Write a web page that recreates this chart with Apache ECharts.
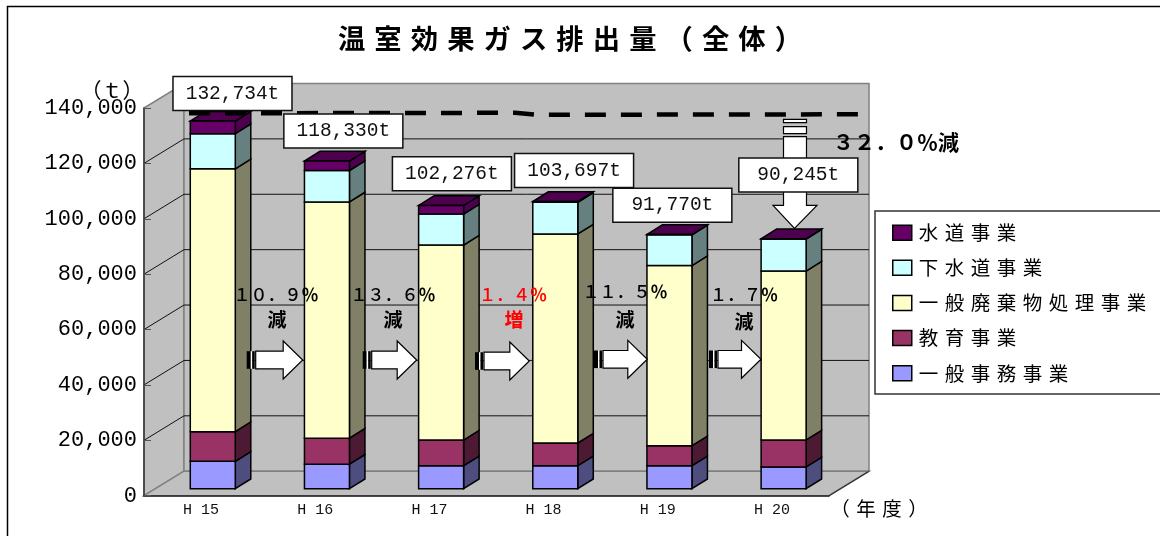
<!DOCTYPE html>
<html><head><meta charset="utf-8">
<style>html,body{margin:0;padding:0;background:#fff}#c{width:1160px;height:536px}</style>
<script src="https://cdn.jsdelivr.net/npm/echarts@6/dist/echarts.min.js"></script>
</head><body><div id="c"></div>
<script>
// ---- data ----
const categories = ['H 15','H 16','H 17','H 18','H 19','H 20'];
const general   = [9900, 8850, 8300, 8300, 8300, 7840];   // 一般事務事業
const education = [10700, 9400, 9280, 8200, 7220, 9750];  // 教育事業
const waste     = [94900, 85300, 70400, 75480, 65060, 61000]; // 一般廃棄物処理事業
const sewer     = [12700, 11350, 11180, 11450, 11100, 11560]; // 下水道事業
const water     = [4534, 3430, 3116, 267, 90, 95];        // 水道事業
const totals    = [132734, 118330, 102276, 103697, 91770, 90245];
const yearChange = ['１０．９','１３．６','１．４','１１．５','１．７'];
const yearChangeWord = ['減','減','増','減','減'];

// ---- style ----
const JP = '"Noto Sans CJK JP"', MONO = '"Liberation Mono"';
const spaced = s => [...s].join('\u2004');
const names  = ['一般事務事業','教育事業','一般廃棄物処理事業','下水道事業','水道事業'];
const fronts = ['#9999FF','#993366','#FFFFCC','#CCFFFF','#660066'];
const sides  = ['#4D4D80','#4D1A33','#808066','#668080','#4D004D'];
const values = [general, education, waste, sewer, water];
const DX = 40, DY = -24.5;         // wall depth
const BDX = 15.5, BDY = -9.7;      // bar depth
const BX0 = -10.8, BW = 45, BFY = -7; // bar front face relative to category centre/axis
const labelOff = [[31.4,-34.5],[28.1,-37],[22.5,-38.8],[30.5,-38.1],[14.6,-36.3],[26.4,-70.8]];
const yTicks = [20000,40000,60000,80000,100000,120000];

function poly(points, fill, stroke, lw){
  return {type:'polygon', shape:{points}, style:{fill, stroke, lineWidth:lw}};
}
function seg(x1,y1,x2,y2,stroke,lw){
  return {type:'line', shape:{x1,y1,x2,y2}, style:{stroke, lineWidth:lw}};
}

const wallSeries = {
  type:'custom', name:'walls', z:1, silent:true, data:[[0,0]], clip:false,
  renderItem(params, api){
    const cs = params.coordSys, L=cs.x, R=cs.x+cs.width, T=cs.y, B=cs.y+cs.height;
    const W='#C0C0C0', G='#808080';
    const ch = [
      poly([[L,B],[L+DX,B+DY],[L+DX,T+DY],[L,T]], W, G, 1.5),
      poly([[L+DX,T+DY],[R+DX,T+DY],[R+DX,B+DY],[L+DX,B+DY]], W, G, 1.5),
      poly([[L,B],[R,B],[R+DX,B+DY],[L+DX,B+DY]], W, G, 1.5),
      seg(R,B,R+DX,B+DY,'#333',1.2)
    ];
    yTicks.forEach(v=>{
      const y = api.coord([0,v])[1];
      ch.push({type:'polyline', shape:{points:[[L,y],[L+DX,y+DY],[R+DX,y+DY]]}, style:{stroke:'#111',lineWidth:1,fill:null}});
    });
    return {type:'group', children:ch};
  }
};

const barSeries = names.map((name,k)=>{
  const base = categories.map((c,i)=>values.slice(0,k).reduce((s,a)=>s+a[i],0));
  return {
    type:'custom', name, z:2, clip:false,
    itemStyle:{color:fronts[k]},
    encode:{x:0,y:[1,2]},
    data:categories.map((c,i)=>[i, base[i], base[i]+values[k][i]]),
    renderItem(params, api){
      const p0 = api.coord([api.value(0), api.value(1)]);
      const p1 = api.coord([api.value(0), api.value(2)]);
      const x0 = p0[0]+BX0, x1 = x0+BW, yb = p0[1]+BFY, yt = p1[1]+BFY;
      const ch = [
        poly([[x1,yb],[x1+BDX,yb+BDY],[x1+BDX,yt+BDY],[x1,yt]], sides[k], '#000', 1.5),
      ];
      if(k===names.length-1) ch.push(poly([[x0,yt],[x1,yt],[x1+BDX,yt+BDY],[x0+BDX,yt+BDY]], sides[k], '#000', 1.5));
      ch.push(poly([[x0,yb],[x1,yb],[x1,yt],[x0,yt]], fronts[k], '#000', 1.5));
      return {type:'group', children:ch};
    }
  };
});

const totalSeries = {
  type:'custom', name:'totals', z:6, clip:false, silent:true,
  encode:{x:0,y:1},
  data:categories.map((c,i)=>[i, totals[i]]),
  renderItem(params, api){
    const i = api.value(0), p = api.coord([i, api.value(1)]);
    const cx = p[0]+labelOff[i][0], cy = p[1]+labelOff[i][1];
    return {type:'group', children:[
      {type:'rect', shape:{x:cx-59.5,y:cy-17,width:119,height:34}, style:{fill:'#fff',stroke:'#111',lineWidth:1.5}},
      {type:'text', style:{text:totals[i].toLocaleString('en-US')+'t', x:cx, y:cy, align:'center', verticalAlign:'middle',
        font:'19.5px '+MONO, fill:'#111'}}
    ]};
  }
};

// ---- hand-drawn annotations of the original sheet ----
function hArrow(x0, tip, y){
  const hs = tip-19.5, t=y-8.8, b=y+8.8;
  return [
    {type:'polygon', z:7, shape:{points:[[x0+9,t],[hs,t],[hs,y-19],[tip,y],[hs,y+19],[hs,b],[x0+9,b]]}, style:{fill:'#fff',stroke:'#000',lineWidth:1.2}},
    {type:'rect', z:7, shape:{x:x0,y:t,width:4,height:17.6}, style:{fill:'#000'}},
    {type:'rect', z:7, shape:{x:x0+4,y:t,width:1.5,height:17.6}, style:{fill:'#fff'}},
    {type:'rect', z:7, shape:{x:x0+5.5,y:t,width:2.5,height:17.6}, style:{fill:'#000'}}
  ];
}
const arrows = [[246.7,302.7,360],[362.7,416.7,360],[475,529.3,361],[594,647.3,359.3],[709,761,359.3]];
const pctPos = [[276,295,277,320],[393,295,393,320],[513,295,514,320],[625,292,625,320],[744,295,744,322]];
const annot = [];
annot.push({type:'polyline', z:3, shape:{points:[[189,113.3],[515,112.8],[536,114.8],[862,114.3]]},
  style:{stroke:'#000',lineWidth:4.5,lineDash:[21,15],fill:null}});
// vertical arrow
annot.push(
  {type:'polygon', z:4, shape:{points:[[783.5,136.7],[806.5,136.7],[806.5,205.3],[817,205.3],[794.5,228.5],[773,205.3],[783.5,205.3]]}, style:{fill:'#fff',stroke:'#000',lineWidth:1.2}},
  {type:'rect', z:4, shape:{x:783.5,y:126.7,width:23,height:7}, style:{fill:'#fff',stroke:'#000',lineWidth:1.2}},
  {type:'rect', z:4, shape:{x:783.5,y:119.3,width:23,height:3.4}, style:{fill:'#fff',stroke:'#000',lineWidth:1.2}}
);
arrows.forEach(a=>annot.push(...hArrow(a[0],a[1],a[2])));
yearChange.forEach((t,i)=>{
  const col = yearChangeWord[i]==='増' ? '#FF0000' : '#000';
  annot.push({type:'text', z:8, style:{text:'{d|'+t+'}{p|％}', x:pctPos[i][0], y:pctPos[i][1], align:'center', verticalAlign:'middle', fill:col,
    rich:{d:{fontFamily:JP,fontSize:17,fontWeight:500,fill:col}, p:{fontFamily:JP,fontSize:17,fontWeight:'bold',fill:col}}}});
  annot.push({type:'text', z:8, style:{text:yearChangeWord[i], x:pctPos[i][2], y:pctPos[i][3], align:'center', verticalAlign:'middle', font:'bold 19px '+JP, fill:col}});
});
annot.push({type:'text', z:8, style:{text:'３２．０％減', x:896, y:142, align:'center', verticalAlign:'middle', font:'bold 21px '+JP, fill:'#000'}});
annot.push({type:'text', z:8, style:{text:'（ｔ）', x:112, y:90, align:'center', verticalAlign:'middle', font:'21px '+JP, fill:'#000'}});
annot.push({type:'text', z:8, style:{text:spaced('（年度）'), x:879, y:509, align:'center', verticalAlign:'middle', font:'19.5px '+JP, fill:'#000'}});
annot.push({type:'polyline', z:0, shape:{points:[[7.5,536],[7.5,6.5],[1160,6.5]]}, style:{stroke:'#000',lineWidth:1.5,fill:null}});

const chart = echarts.init(document.getElementById('c'), null, {renderer:'canvas'});
chart.setOption({
  animation:false,
  backgroundColor:'#fff',
  title:{text:spaced('温室効果ガス排出量（全体）'), left:565, top:20, textAlign:'center',
    textStyle:{fontFamily:JP, fontSize:27.3, fontWeight:'bold', color:'#000'}},
  legend:{
    orient:'vertical', left:875, top:211, width:300,
    padding:[12,60,11,17], itemGap:15.6, itemWidth:19, itemHeight:15,
    backgroundColor:'#fff', borderColor:'#333', borderWidth:1.5,
    selectedMode:false,
    textStyle:{fontFamily:JP, fontSize:19.5, color:'#000', padding:[0,0,0,2]},
    formatter:n=>spaced(n),
    data:[4,3,2,1,0].map(k=>({name:names[k], icon:'rect', itemStyle:{color:fronts[k],borderColor:'#000',borderWidth:1.5}}))
  },
  grid:{left:144, top:108, width:685, height:387.7, containLabel:false},
  xAxis:{type:'category', data:categories, z:5,
    axisLine:{lineStyle:{color:'#222',width:1.5}},
    axisTick:{inside:true,length:6,lineStyle:{color:'#222',width:1}, alignWithLabel:false},
    axisLabel:{fontFamily:MONO, fontSize:15, color:'#111', margin:7},
    splitLine:{show:false}},
  yAxis:{type:'value', min:0, max:140000, interval:20000, z:5,
    axisLine:{show:true,lineStyle:{color:'#333',width:1.5}},
    axisTick:{show:true,inside:true,length:7,lineStyle:{color:'#555',width:1}},
    axisLabel:{fontFamily:MONO, fontSize:22, color:'#000', margin:7, formatter:v=>v.toLocaleString('en-US')},
    splitLine:{show:false}},
  graphic:annot,
  series:[wallSeries, ...barSeries, totalSeries]
});
</script></body></html>
